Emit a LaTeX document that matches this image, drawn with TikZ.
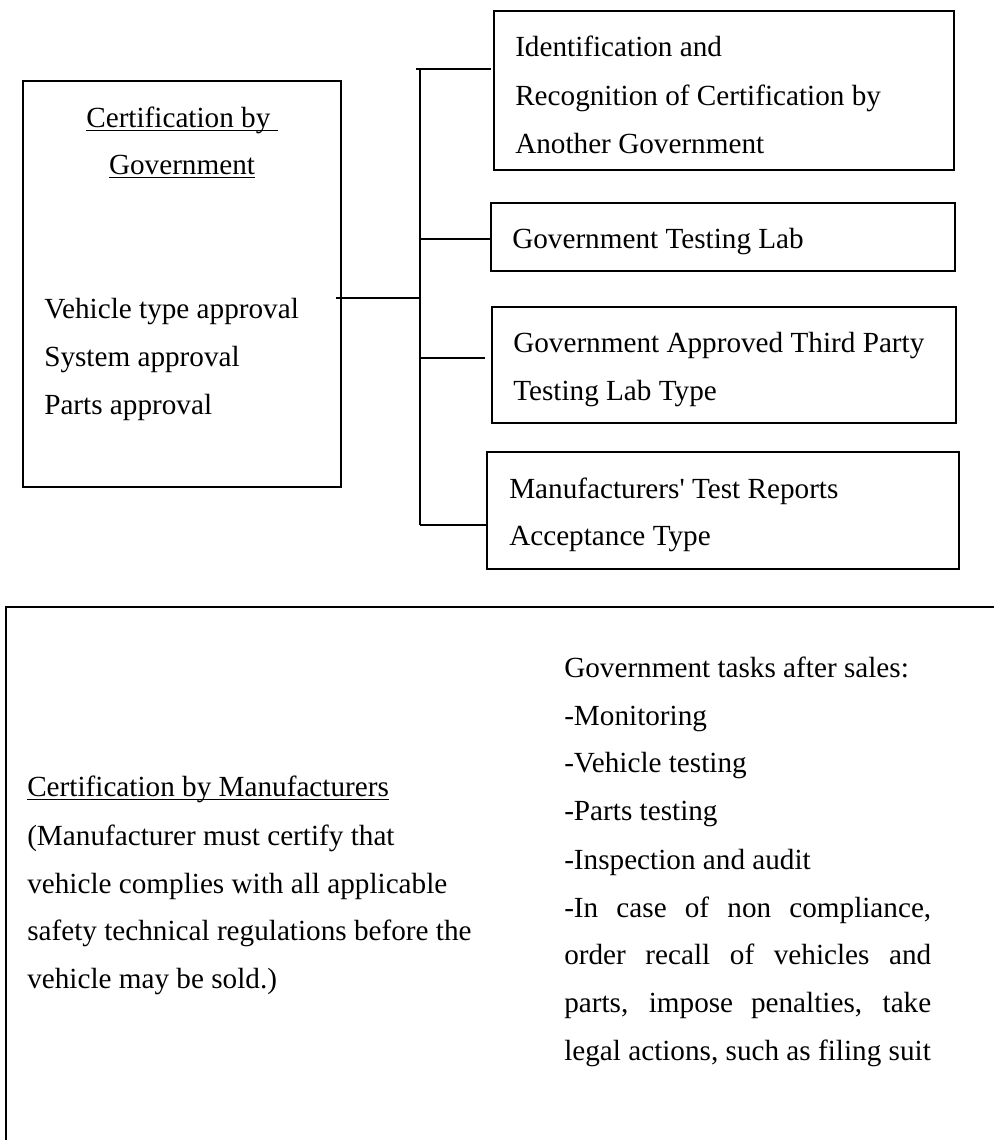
\documentclass[tikz,border=0pt]{standalone}
\usepackage{fontspec}
\setmainfont{Liberation Serif}[Ligatures=TeXOff]
\usetikzlibrary{fit}
\newsavebox\ulbox
\newcommand\myul[1]{\sbox\ulbox{#1}\rlap{\rule[-3pt]{\wd\ulbox}{1.1pt}}\usebox\ulbox}
\begin{document}
\begin{tikzpicture}[x=0.75pt,y=-0.75pt,
  box/.style={draw,line width=1.4pt,inner sep=0pt},
  conn/.style={line width=1.4pt},
  txt/.style={anchor=base west,inner sep=0pt,font=\fontsize{21.9pt}{26pt}\selectfont},
  ctxt/.style={anchor=base,inner sep=0pt,font=\fontsize{21.9pt}{26pt}\selectfont}]
\useasboundingbox (0,0) rectangle (994,1140);

% top-left box
\node[box, fit={(23,81) (341,487)}] (gov) {};
\node[ctxt] (gov1) at (182,127) {\myul{Certification by\ }};
\node[ctxt] (gov2) at (182,174) {\myul{Government}};
\node[txt] (gov3) at (44,318) {Vehicle type approval};
\node[txt] (gov4) at (44,366) {System approval};
\node[txt] (gov5) at (44,414) {Parts approval};

% right boxes
\node[box, fit={(494,11) (954,170)}] (b1) {};
\node[txt] (b1a) at (515,56) {Identification and};
\node[txt] (b1b) at (515,105) {Recognition of Certification by};
\node[txt] (b1c) at (515,153) {Another Government};

\node[box, fit={(491,203) (955,271)}] (b2) {};
\node[txt] (b2a) at (512,248) {Government Testing Lab};

\node[box, fit={(492,307) (956,423)}] (b3) {};
\node[txt] (b3a) at (513,352) {Government Approved Third Party};
\node[txt] (b3b) at (513,400) {Testing Lab Type};

\node[box, fit={(487,452) (959,569)}] (b4) {};
\node[txt] (b4a) at (509,498) {Manufacturers' Test Reports};
\node[txt] (b4b) at (509,545) {Acceptance Type};

% connectors
\coordinate (bt) at (420,69);
\coordinate (bb) at (420,525);
\coordinate (m0) at (336,298);
\coordinate (t0) at (416,69);
\coordinate (e1) at (491,69);
\coordinate (s2) at (420,239);
\coordinate (e2) at (490,239);
\coordinate (s3) at (420,358);
\coordinate (e3) at (485,358);
\coordinate (e4) at (486,525);
\draw[conn] (bt) -- (bb);
\draw[conn] (m0) -- (m0 -| bt);
\draw[conn] (t0) -- (e1);
\draw[conn] (s2) -- (e2);
\draw[conn] (s3) -- (e3);
\draw[conn] (bb) -- (e4);

% bottom box
\begin{scope}
\clip (0,0) rectangle (994,1140);
\node[box, fit={(6,607) (1030,1180)}] (mfr) {};
\end{scope}
\node[txt] (m1) at (27,796) {\myul{Certification by Manufacturers}};
\node[txt] (m2) at (27,845) {(Manufacturer must certify that};
\node[txt] (m3) at (27,893) {vehicle complies with all applicable};
\node[txt] (m4) at (27,940) {safety technical regulations before the};
\node[txt] (m5) at (27,988) {vehicle may be sold.)};

\node[txt] (r1) at (564,677) {Government tasks after sales:};
\node[txt] (r2) at (564,725) {-Monitoring};
\node[txt] (r3) at (564,772) {-Vehicle testing};
\node[txt] (r4) at (564,820) {-Parts testing};
\node[txt] (r5) at (564,869) {-Inspection and audit};
\node[txt] (r6) at (564,917) {\makebox[275.25pt][s]{-In case of non compliance,}};
\node[txt] (r7) at (564,964) {\makebox[275.25pt][s]{order recall of vehicles and}};
\node[txt] (r8) at (564,1012) {\makebox[275.25pt][s]{parts, impose penalties, take}};
\node[txt] (r9) at (564,1060) {legal actions, such as filing suit};
\end{tikzpicture}
\end{document}
